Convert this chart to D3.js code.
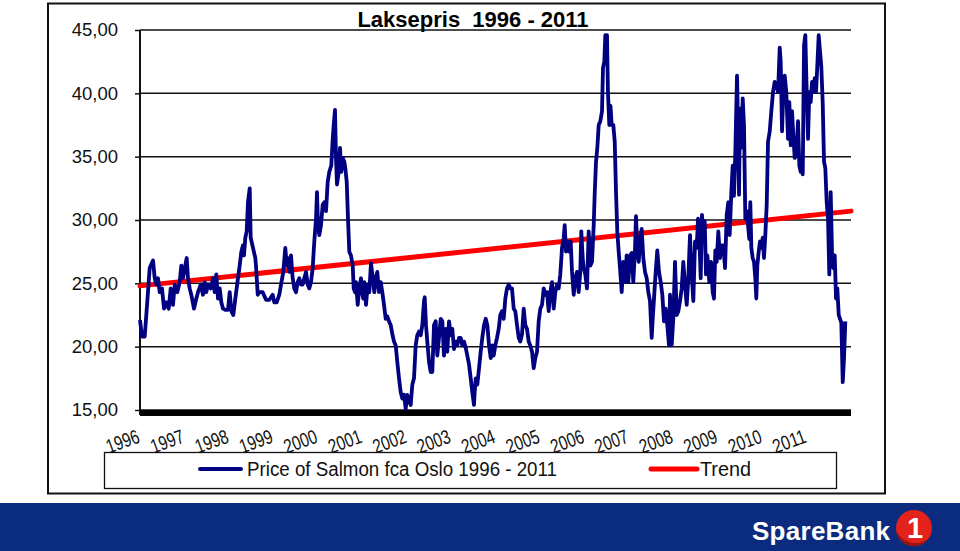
<!DOCTYPE html>
<html>
<head>
<meta charset="utf-8">
<script src="https://cdn.jsdelivr.net/npm/d3@7"></script>
<style>
  body { margin: 0; background: #fff; }
  svg { display: block; }
  text { font-family: "Liberation Sans", Arial, sans-serif; }
</style>
</head>
<body>
<script>
const w = 960,
	h = 551;

// weekly salmon price (NOK/kg), date as decimal year
const dates = [
	1996.000,1996.045,1996.106,1996.142,1996.218,1996.293,1996.331,1996.367,1996.405,1996.443,
	1996.495,1996.540,1996.592,1996.646,1996.691,1996.743,1996.781,1996.839,1996.893,1996.929,
	1996.968,1997.006,1997.051,1997.080,1997.118,1997.154,1997.215,1997.267,1997.305,1997.366,
	1997.418,1997.456,1997.492,1997.530,1997.591,1997.643,1997.681,1997.717,1997.755,1997.794,
	1997.830,1997.868,1997.920,1997.980,1998.019,1998.055,1998.100,1998.145,1998.205,1998.244,
	1998.280,1998.318,1998.340,1998.370,1998.401,1998.430,1998.469,1998.491,1998.543,1998.595,
	1998.610,1998.649,1998.685,1998.761,1998.836,1998.910,1998.986,1999.022,1999.076,1999.135,
	1999.173,1999.225,1999.270,1999.301,1999.331,1999.360,1999.398,1999.436,1999.472,1999.511,
	1999.549,1999.585,1999.623,1999.661,1999.697,1999.736,1999.774,1999.810,1999.848,1999.886,
	1999.922,1999.961,1999.983,2000.006,2000.035,2000.073,2000.111,2000.148,2000.186,2000.224,
	2000.260,2000.305,2000.337,2000.366,2000.388,2000.411,2000.433,2000.472,2000.501,2000.530,
	2000.562,2000.598,2000.620,2000.652,2000.681,2000.710,2000.748,2000.787,2000.809,2000.838,
	2000.861,2000.899,2000.935,2000.973,2000.996,2001.025,2001.048,2001.086,2001.124,2001.160,
	2001.198,2001.237,2001.273,
	2001.304,2001.340,2001.378,2001.417,2001.453,2001.491,2001.529,2001.565,2001.603,2001.642,
	2001.678,2001.716,2001.754,2001.790,2001.829,2001.867,2001.903,2001.941,2001.979,2002.015,
	2002.054,2002.092,2002.128,2002.166,2002.204,2002.240,2002.279,2002.317,2002.353,2002.391,
	2002.407,2002.436,2002.465,2002.504,2002.542,2002.578,2002.616,2002.654,2002.690,2002.729,
	2002.767,2002.803,2002.841,2002.879,2002.915,2002.954,2002.992,2003.028,2003.066,2003.104,
	2003.140,2003.179,2003.217,2003.253,2003.291,2003.330,2003.366,2003.404,2003.442,2003.478,
	2003.516,2003.532,2003.555,2003.591,2003.629,2003.667,2003.703,2003.741,2003.780,2003.816,
	2003.854,2003.892,2003.928,
	2003.960,2003.996,2004.034,2004.072,2004.108,2004.146,2004.185,2004.221,2004.259,2004.297,
	2004.333,2004.371,2004.410,2004.446,2004.484,2004.522,2004.558,2004.597,2004.635,2004.671,
	2004.709,2004.747,2004.783,2004.822,2004.860,2004.896,2004.934,2004.972,2005.008,2005.047,
	2005.085,2005.121,2005.159,2005.197,2005.233,2005.272,2005.310,2005.346,2005.384,2005.422,
	2005.458,2005.497,2005.535,2005.557,2005.587,2005.632,2005.661,2005.692,2005.722,2005.760,
	2005.796,2005.834,2005.872,2005.908,2005.931,2005.962,2005.985,2006.021,2006.059,2006.097,
	2006.133,2006.172,2006.210,2006.232,2006.262,2006.291,2006.323,2006.359,2006.397,2006.419,
	2006.449,2006.471,2006.509,2006.531,2006.561,2006.588,2006.615,2006.651,2006.683,2006.712,
	2006.741,2006.772,2006.802,2006.840,2006.876,2006.914,2006.952,2006.988,2007.027,2007.065,
	2007.101,2007.139,2007.162,2007.191,2007.223,2007.252,2007.290,2007.326,2007.365,2007.403,
	2007.439,2007.477,2007.515,2007.538,2007.567,2007.605,2007.641,2007.679,2007.718,2007.754,
	2007.792,2007.830,2007.866,2007.905,2007.927,2007.965,2008.001,2008.040,2008.078,2008.114,
	2008.152,2008.190,2008.226,2008.265,2008.303,2008.339,2008.377,2008.415,2008.452,2008.490,
	2008.528,2008.557,2008.587,2008.618,2008.647,2008.677,2008.708,2008.737,2008.767,2008.812,
	2008.850,2008.888,2008.917,2008.947,2008.978,2009.014,2009.052,2009.091,2009.127,2009.165,
	2009.203,2009.239,2009.270,2009.307,2009.338,2009.367,2009.397,2009.435,2009.457,2009.480,
	2009.502,2009.532,2009.563,2009.592,2009.622,2009.653,2009.682,2009.712,2009.734,2009.757,
	2009.788,2009.817,2009.847,2009.869,2009.892,2009.923,2009.952,2009.982,2010.013,2010.042,
	2010.072,2010.103,2010.133,2010.171,2010.207,2010.245,2010.283,2010.319,2010.358,2010.396,
	2010.418,2010.448,2010.477,2010.508,2010.544,2010.583,2010.612,2010.643,2010.673,2010.702,
	2010.733,2010.769,2010.808,2010.837,2010.868,2010.898,2010.914,2010.943,2010.972,2011.003,
	2011.033,2011.062,2011.093,2011.123,2011.152,2011.183,2011.213,2011.242,2011.273,2011.303,
	2011.332,2011.363,2011.393,2011.422,2011.453,2011.483,2011.512,2011.543,2011.573,2011.602,
	2011.634,2011.663,2011.692,2011.724,2011.753,2011.782,2011.814,2011.843,2011.872
];

const prices = [
	22.1,20.8,20.8,22.5,26.2,26.8,25.4,24.9,25.4,24.3,
	24.6,23.0,23.5,23.0,24.6,23.3,24.9,24.3,25.1,26.4,
	25.4,26.2,27.0,25.4,24.6,24.1,23.0,23.8,24.3,24.9,
	24.1,25.1,24.3,24.9,24.6,25.4,24.3,25.7,23.8,24.6,
	23.5,23.0,22.9,22.9,24.3,22.8,22.5,23.8,25.4,26.4,
	27.5,28.0,27.2,28.6,29.1,31.4,32.5,28.6,27.8,27.0,
	26.4,24.1,24.3,24.3,23.7,23.7,24.1,23.5,23.5,24.1,
	24.9,25.9,27.8,26.4,27.0,25.9,27.2,25.4,24.6,24.3,
	25.1,25.4,24.9,24.9,25.4,25.9,24.9,24.6,25.1,26.2,
	28.3,30.1,32.2,29.6,28.8,29.6,31.2,31.4,30.7,33.0,
	33.8,34.3,36.4,37.8,38.7,34.9,32.8,33.8,35.7,33.8,
	34.9,34.6,34.1,33.0,30.1,27.5,27.2,26.4,24.6,24.3,
	25.1,23.3,24.6,25.4,24.3,23.8,25.1,23.3,24.9,24.3,
	26.6,25.4,24.3,
	25.4,25.9,24.3,25.1,24.3,23.3,22.2,22.4,22.0,21.7,
	21.0,20.4,20.1,18.8,17.5,16.4,15.9,16.2,15.1,16.2,
	15.7,15.4,17.0,17.5,20.1,20.9,21.2,20.9,21.7,23.6,
	23.9,21.7,20.4,18.8,18.0,18.0,21.7,22.0,19.3,20.7,
	22.2,22.0,19.3,21.4,19.6,22.0,20.9,21.4,19.8,20.4,
	20.1,20.7,20.7,20.1,20.4,19.9,19.3,18.6,17.5,16.4,
	15.4,16.4,17.5,17.0,18.3,19.6,20.7,21.7,22.2,21.7,
	20.1,19.1,20.1,
	19.3,20.1,20.7,21.4,22.5,22.8,22.2,23.8,24.6,24.9,
	24.6,24.6,23.0,22.8,21.7,20.7,20.4,21.0,23.0,21.7,
	21.4,20.4,20.1,19.6,18.3,19.1,19.6,22.0,23.0,23.3,
	24.6,24.1,24.3,22.8,24.3,25.1,23.0,24.3,24.9,24.6,
	25.7,27.8,28.6,29.6,27.5,28.3,27.5,28.3,25.9,24.1,
	25.4,25.9,24.3,25.9,29.1,27.0,26.2,25.7,24.6,29.1,
	26.4,26.7,29.6,32.0,34.6,35.7,37.5,37.8,38.6,42.0,
	42.5,44.6,44.6,40.1,37.5,39.0,37.5,37.5,36.2,32.2,
	29.1,27.5,26.2,24.3,26.7,25.1,27.2,25.1,27.2,27.4,
	25.1,27.6,30.3,27.8,26.7,28.3,29.3,27.0,25.9,25.4,
	24.3,23.6,20.7,22.2,23.8,25.9,27.6,25.9,25.1,24.1,
	22.0,23.0,21.7,20.1,24.1,20.1,22.2,26.7,22.5,22.8,
	23.6,24.6,26.7,24.9,23.3,25.4,28.8,25.7,23.6,28.3,
	27.8,30.1,28.6,25.4,30.4,28.6,29.9,25.7,27.2,25.1,
	26.7,24.3,23.8,27.6,26.7,29.1,27.0,28.0,28.0,26.2,
	30.4,31.4,28.8,32.2,34.3,31.9,35.4,41.4,37.5,32.0,
	38.8,35.7,39.6,37.5,30.1,30.7,29.6,28.5,31.4,27.8,
	27.0,26.7,25.4,23.8,26.4,27.5,28.3,27.8,28.6,27.0,
	28.8,31.2,36.2,37.0,38.6,40.1,40.9,40.7,40.1,43.6,
	42.5,37.0,40.1,41.4,40.1,36.4,39.3,35.9,38.6,36.7,
	34.9,35.1,37.8,34.3,33.8,34.9,33.6,43.8,44.6,40.1,
	36.4,40.1,39.3,40.9,40.1,41.2,40.1,42.2,44.6,43.3,
	42.1,39.3,34.6,34.1,31.4,30.1,25.7,32.2,27.5,26.2,
	27.2,23.8,24.6,22.5,22.2,21.9,17.2,19.1,22.0
];

// linear trend, start and end value
const trendDates = [1996, 2012];
const trendValues = [24.8, 30.7];

const yTicks = [15, 20, 25, 30, 35, 40, 45];
const yearLabels = [1996, 1997, 1998, 1999, 2000, 2001, 2002, 2003, 2004, 2005, 2006, 2007, 2008, 2009, 2010, 2011];

const title = 'Laksepris  1996 - 2011';
const seriesNames = ['Price of Salmon fca Oslo 1996 - 2011', 'Trend'];
const seriesColors = ['#000080', '#ff0000'];

const n = Math.min(dates.length, prices.length);
const priceData = d3.range(n).map((i) => ({t: dates[i], v: prices[i]}));
const trendData = trendDates.map((t, i) => ({t: t, v: trendValues[i]}));

const plot = {left: 140, right: 851, top: 30, bottom: 410};

const x = d3.scaleLinear().domain([1996, 2012]).range([plot.left, plot.right]);
const y = d3.scaleLinear().domain([15, 45]).range([plot.bottom, plot.top]);

const nok = d3.formatLocale({decimal: ',', thousands: ' ', grouping: [3], currency: ['', ' kr']}).format('.2f');

const svg = d3.select('body')
	.append('svg')
	.attr('width', w)
	.attr('height', h);

svg.append('rect').attr('width', w).attr('height', h).attr('fill', '#fff');

//chart frame
svg.append('rect')
	.attr('x', 48)
	.attr('y', 3.5)
	.attr('width', 837)
	.attr('height', 490)
	.attr('fill', 'none')
	.attr('stroke', '#111')
	.attr('stroke-width', 2);

//title
svg.append('text')
	.attr('x', 473)
	.attr('y', 27)
	.attr('text-anchor', 'middle')
	.attr('font-size', 22)
	.attr('font-weight', 'bold')
	.style('white-space', 'pre')
	.text(title);

//y axis with gridlines
const yAxis = svg.append('g')
	.attr('transform', `translate(${plot.left},0)`)
	.call(d3.axisLeft(y)
		.tickValues(yTicks)
		.tickSize(5)
		.tickFormat(nok));
yAxis.select('.domain').remove();
yAxis.selectAll('.tick line').attr('stroke', '#111').attr('stroke-width', 1.5);
yAxis.selectAll('.tick text')
	.attr('x', -22)
	.attr('font-size', 18.5)
	.attr('fill', '#111')
	.attr('font-family', '"Liberation Sans", Arial, sans-serif');

svg.append('g')
	.selectAll('line')
	.data(yTicks)
	.enter()
	.append('line')
	.attr('x1', plot.left)
	.attr('x2', plot.right)
	.attr('y1', (d) => y(d))
	.attr('y2', (d) => y(d))
	.attr('stroke', '#111')
	.attr('stroke-width', 1.5);

//left axis line
svg.append('line')
	.attr('x1', plot.left)
	.attr('x2', plot.left)
	.attr('y1', plot.top)
	.attr('y2', plot.bottom + 5)
	.attr('stroke', '#111')
	.attr('stroke-width', 2);

//thick base line
svg.append('line')
	.attr('x1', plot.left)
	.attr('x2', plot.right)
	.attr('y1', y(15) + 3)
	.attr('y2', y(15) + 3)
	.attr('stroke', '#000')
	.attr('stroke-width', 6);

//year labels
svg.append('g')
	.selectAll('text')
	.data(yearLabels)
	.enter()
	.append('text')
	.attr('transform', (d) => `translate(${x(d) + 1},${442}) rotate(-20)`)
	.attr('text-anchor', 'end')
	.attr('font-size', 20)
	.attr('textLength', 34)
	.attr('lengthAdjust', 'spacingAndGlyphs')
	.attr('fill', '#111')
	.text((d) => d);

//series
const line = d3.line()
	.x((d) => x(d.t))
	.y((d) => y(d.v));

svg.append('path')
	.datum(trendData)
	.attr('d', line)
	.attr('fill', 'none')
	.attr('stroke', seriesColors[1])
	.attr('stroke-width', 5)
	.attr('stroke-linecap', 'round');

svg.append('path')
	.datum(priceData)
	.attr('d', line)
	.attr('fill', 'none')
	.attr('stroke', seriesColors[0])
	.attr('stroke-width', 3.8)
	.attr('stroke-linejoin', 'round');

//legend
svg.append('rect')
	.attr('x', 104.5)
	.attr('y', 452.5)
	.attr('width', 732)
	.attr('height', 36)
	.attr('fill', '#fff')
	.attr('stroke', '#111')
	.attr('stroke-width', 1.3);

const legendPos = [{x1: 200, x2: 241, tx: 247, len: 310}, {x1: 651, x2: 697, tx: 700, len: 51}];
const legend = svg.append('g')
	.selectAll('g')
	.data(seriesNames)
	.enter()
	.append('g');
legend.append('line')
	.attr('x1', (d, i) => legendPos[i].x1)
	.attr('x2', (d, i) => legendPos[i].x2)
	.attr('y1', 469)
	.attr('y2', 469)
	.attr('stroke', (d, i) => seriesColors[i])
	.attr('stroke-width', (d, i) => i ? 5 : 4)
	.attr('stroke-linecap', 'round');
legend.append('text')
	.attr('x', (d, i) => legendPos[i].tx)
	.attr('y', 476)
	.attr('font-size', 19.5)
	.attr('textLength', (d, i) => legendPos[i].len)
	.attr('lengthAdjust', 'spacingAndGlyphs')
	.attr('fill', '#111')
	.text((d) => d);

//bank banner
svg.append('rect')
	.attr('x', 0)
	.attr('y', 503)
	.attr('width', w)
	.attr('height', h - 503)
	.attr('fill', '#0b2b7e');

svg.append('text')
	.attr('x', 752)
	.attr('y', 540)
	.attr('font-family', '"Open Sans", sans-serif')
	.attr('font-weight', 'bold')
	.attr('font-size', 26)
	.attr('textLength', 138)
	.attr('fill', '#fff')
	.text('SpareBank');

const logo = svg.append('g').attr('transform', 'translate(914,528)');
logo.append('circle').attr('r', 18).attr('fill', '#e3231b');
logo.append('path')
	.attr('d', 'M-18,2 A18,18 0 0,0 15,10 A21,21 0 0,1 -18,2 Z')
	.attr('fill', '#9c1410');
logo.append('text')
	.attr('x', 1)
	.attr('y', 10)
	.attr('text-anchor', 'middle')
	.attr('font-family', '"Open Sans", sans-serif')
	.attr('font-weight', 'bold')
	.attr('font-size', 29)
	.attr('fill', '#fff')
	.text('1');
</script>
</body>
</html>
